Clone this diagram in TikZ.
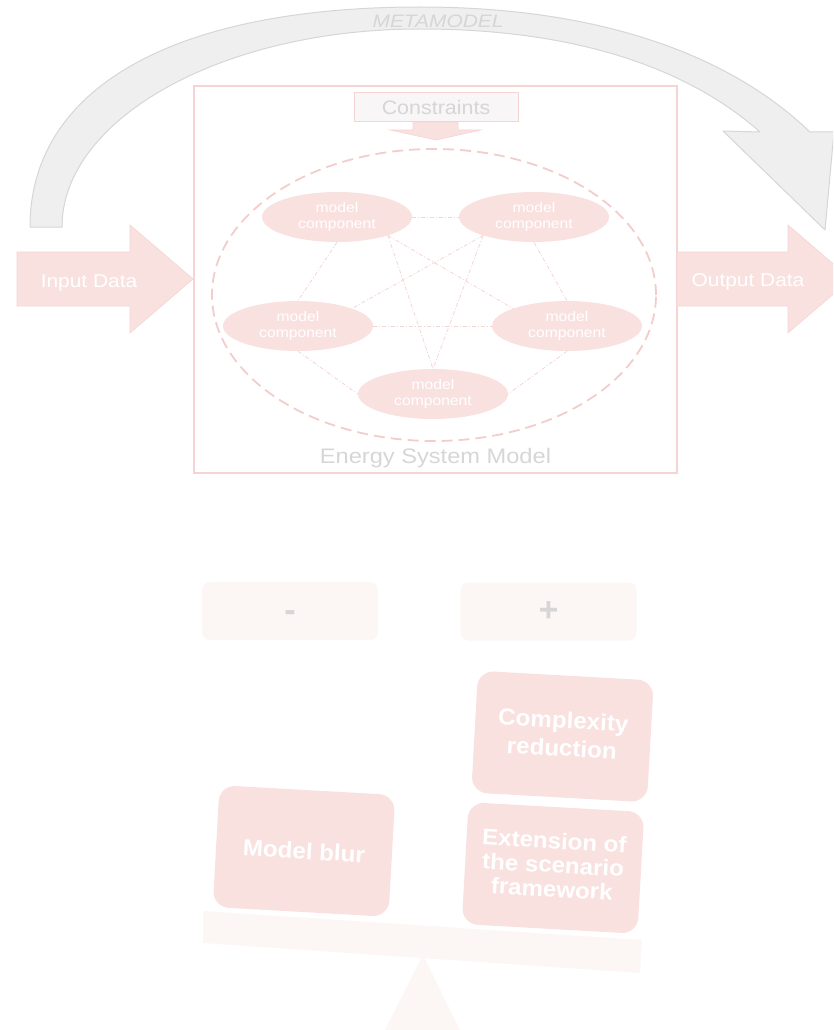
\documentclass[tikz,border=0pt]{standalone}
\usepackage{fontspec}
\setmainfont{Liberation Sans}
\usepackage{graphicx}
\usetikzlibrary{shapes.geometric}

\definecolor{pinkfill}{HTML}{F9E1E0}
\definecolor{pinkline}{HTML}{F5D5D4}
\definecolor{pinkdash}{HTML}{F3CCCC}
\definecolor{pinklink}{HTML}{F4D4D4}
\definecolor{palefill}{HTML}{FCF6F5}
\definecolor{constfill}{HTML}{F8F6F6}
\definecolor{greyfill}{HTML}{EFEFEF}
\definecolor{greyline}{HTML}{D6D6D6}
\definecolor{greytext}{HTML}{D6D6D6}

% horizontally widened text
\newcommand\wide[2][1.12]{\scalebox{#1}[1]{#2}}

\begin{document}
\begin{tikzpicture}[x=1pt,y=-1pt,
  comp/.style={ellipse, fill=pinkfill, minimum width=150pt, minimum height=50pt,
    inner sep=0pt, text=white, font=\fontsize{14}{16}\selectfont},
  complink/.style={draw=pinklink, line width=0.8pt,
    dash pattern=on 4pt off 2pt on 1pt off 2pt},
  block/.style={rounded corners=16pt, fill=pinkfill, minimum width=176pt,
    minimum height=122pt, inner sep=0pt, rotate=-3.2, text=white},
  signbox/.style={rounded corners=8pt, fill=palefill, minimum width=176pt,
    minimum height=58pt, inner sep=0pt, text=greytext,
    font=\fontsize{34}{36}\selectfont\bfseries},
  flowarrow/.style={fill=pinkfill, draw=pinkline, line width=0.6pt},
  flowtext/.style={text=white, font=\fontsize{18.5}{20}\selectfont, anchor=base, inner sep=0pt},
  greytitle/.style={text=greytext, inner sep=0pt}
]
\useasboundingbox (0,0) rectangle (833,1030);
\clip (0,0) rectangle (833,1030);

% curved metamodel arrow
\filldraw[fill=greyfill, draw=greyline, line width=1pt, line join=round]
  (30,227) .. controls (30,90) and (170,7) .. (420,7)
  .. controls (600,7) and (730,55) .. (810,132)
  -- (834,132) -- (825,230) -- (723,131) -- (760,132)
  .. controls (690,70) and (580,29) .. (420,29)
  .. controls (220,29) and (62,120) .. (62,227) -- cycle;
\node[greytitle, font=\fontsize{18}{20}\selectfont\itshape, anchor=base] (meta) at (438,28) {\wide[1.16]{METAMODEL}};

% energy system model frame
\node[draw=pinkline, line width=1.5pt, minimum width=483pt, minimum height=387pt, inner sep=0pt] (esm) at (435.5,279.5) {};
\node[greytitle, font=\fontsize{21}{23}\selectfont, anchor=base] (esmtitle) at (435.5,463) {\wide[1.125]{Energy System Model}};

% constraints box and its arrow
\node[draw=pinkline, fill=constfill, line width=1pt, minimum width=164pt, minimum height=29pt, inner sep=0pt] (cons) at (436,107.5) {};
\node[greytitle, font=\fontsize{19.5}{21}\selectfont, anchor=base] (constext) at (436,114.5) {\wide[1.1]{Constraints}};
\filldraw[flowarrow] (413,122) -- (458,122) -- (458,130) -- (481,130) -- (436,140) -- (390,130) -- (413,130) -- cycle;

% system boundary
\node[ellipse, draw=pinkdash, line width=1.8pt, dash pattern=on 11pt off 6pt,
  minimum width=444pt, minimum height=292pt, inner sep=0pt] (sys) at (434,295) {};

% model components
\node[comp] (tl) at (337,217) {\wide{\begin{tabular}{@{}c@{}}model\\component\end{tabular}}};
\node[comp] (tr) at (534,217) {\wide{\begin{tabular}{@{}c@{}}model\\component\end{tabular}}};
\node[comp] (ml) at (298,326) {\wide{\begin{tabular}{@{}c@{}}model\\component\end{tabular}}};
\node[comp] (mr) at (567,326) {\wide{\begin{tabular}{@{}c@{}}model\\component\end{tabular}}};
\node[comp] (bt) at (433,394) {\wide{\begin{tabular}{@{}c@{}}model\\component\end{tabular}}};

% couplings between components
\draw[complink] (tl.east) -- (tr.west);
\draw[complink] (tl.-20) -- (mr.162);
\draw[complink] (tl.-20) -- (bt.north);
\draw[complink] (tl.south) -- (ml.north);
\draw[complink] (tr.200) -- (ml.18);
\draw[complink] (tr.200) -- (bt.north);
\draw[complink] (tr.south) -- (mr.north);
\draw[complink] (ml.east) -- (mr.west);
\draw[complink] (ml.south) -- (bt.west);
\draw[complink] (mr.south) -- (bt.east);

% input and output data
\filldraw[flowarrow] (17,252) -- (130,252) -- (130,225) -- (193,279) -- (130,333) -- (130,306) -- (17,306) -- cycle;
\node[flowtext] (input) at (89,287) {\wide[1.13]{Input Data}};
\filldraw[flowarrow] (677,252) -- (788,252) -- (788,225) -- (851,279) -- (788,333) -- (788,306) -- (677,306) -- cycle;
\node[flowtext] (output) at (748,286) {\wide[1.13]{Output Data}};

% balance: minus and plus headers
\node[signbox] (minus) at (290,611) {\raisebox{-10.5pt}[0pt][0pt]{-}};
\node[signbox] (plus) at (548.5,611.5) {+};

% fulcrum and beam
\fill[palefill] (423,955) -- (460,1030) -- (385,1030) -- cycle;
\fill[palefill] (203,911) -- (642,940) -- (640,973) -- (203,943) -- cycle;

% weights on the beam
\node[block, font=\fontsize{23}{24}\selectfont\bfseries] (blur) at (304,851)
  {\wide[1.05]{Model blur}};
\node[block, font=\fontsize{23}{28}\selectfont\bfseries] (cplx) at (562.5,736.5)
  {\wide[1.05]{\begin{tabular}{@{}c@{}}Complexity\\reduction\end{tabular}}};
\node[block, font=\fontsize{22.5}{24}\selectfont\bfseries] (ext) at (553,868)
  {\wide[1.07]{\begin{tabular}{@{}c@{}}Extension of\\the scenario\\framework\end{tabular}}};
\end{tikzpicture}
\end{document}
